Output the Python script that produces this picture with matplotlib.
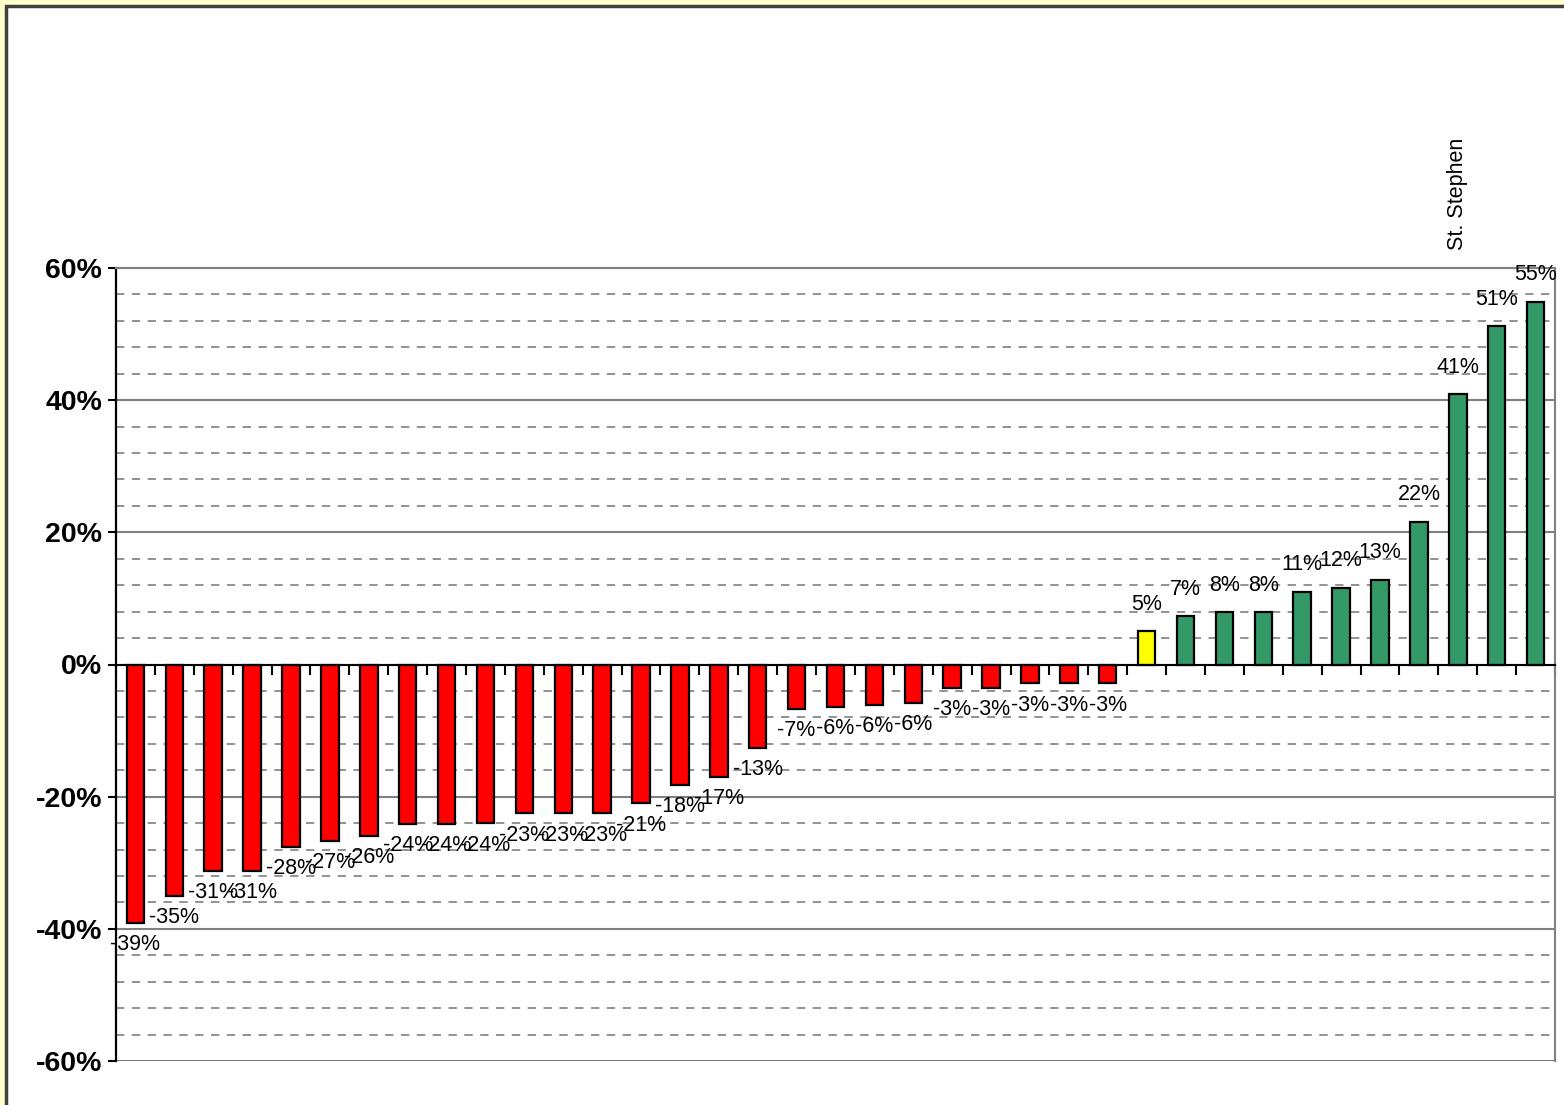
import matplotlib.pyplot as plt
from matplotlib.patches import Rectangle

plt.rcParams['font.family'] = ['Liberation Sans', 'DejaVu Sans']

# Dados
valores = [-39.1, -35.0, -31.2, -31.2, -27.6, -26.7, -25.9, -24.1, -24.1, -24.0,
           -22.5, -22.5, -22.5, -21.0, -18.2, -17.0, -12.6, -6.7, -6.4, -6.1,
           -5.8, -3.5, -3.5, -2.8, -2.8, -2.8,
           5.0,
           7.3, 7.9, 7.9, 11.0, 11.6, 12.8, 21.6, 40.9, 51.2, 54.9]
rotulos = ['-39%', '-35%', '-31%', '-31%', '-28%', '-27%', '-26%', '-24%', '-24%', '-24%',
           '-23%', '-23%', '-23%', '-21%', '-18%', '-17%', '-13%', '-7%', '-6%', '-6%',
           '-6%', '-3%', '-3%', '-3%', '-3%', '-3%',
           '5%',
           '7%', '8%', '8%', '11%', '12%', '13%', '22%', '41%', '51%', '55%']
cores = ['#FF0000'] * 26 + ['#FFFF00'] + ['#339966'] * 10
destaque = 'St. Stephen'
idx_destaque = 34

yticks = [-60, -40, -20, 0, 20, 40, 60]
yticklabels = ['-60%', '-40%', '-20%', '0%', '20%', '40%', '60%']

fig = plt.figure(figsize=(15.64, 11.05), dpi=100, facecolor='#FFFFCC')
fundo = Rectangle((6 / 1564, -0.05), 1.2, 1 - 5.5 / 1105 + 0.05,
                  transform=fig.transFigure, facecolor='white',
                  edgecolor='#404040', linewidth=2.5, zorder=-10)
fig.patches.append(fundo)

ax = fig.add_axes([116 / 1564, 1 - 1061 / 1105, (1555 - 116) / 1564, (1061 - 268) / 1105])
ax.set_facecolor('white')

x = list(range(len(valores)))
ax.bar(x, valores, width=0.45, color=cores, edgecolor='black', linewidth=1.6, zorder=3)

# Rotulos das barras
for i, v in enumerate(valores):
    if v >= 0:
        ax.annotate(rotulos[i], (i, v), xytext=(0, 27), textcoords='offset pixels',
                    ha='center', va='center', fontsize=15.5, zorder=5)
    else:
        ax.annotate(rotulos[i], (i, v), xytext=(0, -22), textcoords='offset pixels',
                    ha='center', va='center', fontsize=15.5, zorder=5)

ax.annotate(destaque, (idx_destaque, 1), xycoords=('data', 'axes fraction'),
            xytext=(0, 18), textcoords='offset pixels', rotation=90,
            ha='center', va='bottom', fontsize=15.5)

# Eixos
ax.set_xlim(-0.5, len(valores) - 0.5)
ax.set_ylim(-60, 60)
ax.set_yticks(yticks)
ax.set_yticklabels(yticklabels, fontsize=20.5, fontweight='bold')
ax.set_yticks(range(-56, 60, 4), minor=True)
ax.tick_params(axis='y', which='major', length=6, width=1.5, color='black', pad=4)
ax.tick_params(axis='y', which='minor', length=0)

ax.grid(axis='y', which='major', color='#808080', linewidth=1.5, zorder=1)
ax.grid(axis='y', which='minor', color='#808080', linewidth=1.2,
        linestyle=(0, (5, 4.5)), zorder=1)

ax.spines['bottom'].set_position(('data', 0))
ax.spines['bottom'].set_color('black')
ax.spines['bottom'].set_linewidth(1.5)
ax.spines['bottom'].set_zorder(4)
ax.spines['left'].set_color('black')
ax.spines['left'].set_linewidth(1.6)
ax.spines['top'].set_color('#808080')
ax.spines['top'].set_linewidth(1.5)
ax.spines['right'].set_color('#808080')
ax.spines['right'].set_linewidth(1.5)

ax.set_xticks([k - 0.5 for k in range(len(valores) + 1)])
ax.set_xticklabels([])
ax.tick_params(axis='x', direction='out', length=7, width=1.5, color='black')

fig.savefig('out.png', dpi=100, facecolor=fig.get_facecolor())
